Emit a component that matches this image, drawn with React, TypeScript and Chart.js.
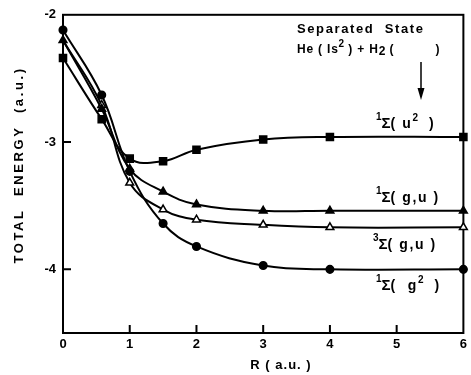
import { useEffect, useRef } from 'react';
import { Chart, registerables } from 'chart.js';

Chart.register(...registerables);

// R (a.u.) sample positions
const R = [0, 0.58, 1, 1.5, 2, 3, 4, 6];
// Total energies (a.u.)
const E_u2 = [-2.34, -2.82, -3.13, -3.15, -3.06, -2.98, -2.96, -2.96];
const E_gu1 = [-2.2, -2.74, -3.21, -3.39, -3.49, -3.54, -3.54, -3.54];
const E_gu3 = [-2.2, -2.71, -3.32, -3.53, -3.61, -3.65, -3.67, -3.67];
const E_g2 = [-2.12, -2.63, -3.23, -3.64, -3.82, -3.97, -4.0, -4.0];

const xTicks = [0, 1, 2, 3, 4, 5, 6];
const yTicks = [-2, -3, -4];
const xInnerTicks = [1, 2, 3, 4, 5];
const yInnerTicks = [-3, -4];

const FONT = '"Liberation Sans", Arial, sans-serif';

type Run = { t: string; size: number; dy?: number; ls?: number };

function drawRuns(ctx: CanvasRenderingContext2D, x: number, y: number, runs: Run[]) {
  let cx = x;
  for (const r of runs) {
    ctx.font = `bold ${r.size}px ${FONT}`;
    (ctx as any).letterSpacing = `${r.ls ?? 0}px`;
    ctx.fillText(r.t, cx, y + (r.dy ?? 0));
    cx += ctx.measureText(r.t).width;
  }
  (ctx as any).letterSpacing = '0px';
}

const decorPlugin = {
  id: 'decor',
  beforeDatasetsDraw(chart: any) {
    const { ctx, chartArea: a, scales } = chart;
    ctx.save();
    ctx.strokeStyle = '#000';
    ctx.lineWidth = 2;
    ctx.strokeRect(a.left, a.top, a.right - a.left, a.bottom - a.top);
    ctx.beginPath();
    for (const v of xInnerTicks) {
      const px = scales.x.getPixelForValue(v);
      ctx.moveTo(px, a.bottom);
      ctx.lineTo(px, a.bottom - 8);
    }
    for (const v of yInnerTicks) {
      const py = scales.y.getPixelForValue(v);
      ctx.moveTo(a.left, py);
      ctx.lineTo(a.left + 8, py);
    }
    ctx.stroke();
    ctx.restore();
  },
  afterDraw(chart: any) {
    const { ctx } = chart;
    ctx.save();
    ctx.fillStyle = '#000';
    ctx.strokeStyle = '#000';
    ctx.textBaseline = 'alphabetic';
    ctx.textAlign = 'left';

    // Y axis title
    ctx.save();
    ctx.translate(23, 165);
    ctx.rotate(-Math.PI / 2);
    ctx.textAlign = 'center';
    ctx.font = `bold 13px ${FONT}`;
    (ctx as any).letterSpacing = '2.6px';
    ctx.fillText('TOTAL  ENERGY  (a.u.)', 0, 0);
    (ctx as any).letterSpacing = '0px';
    ctx.restore();

    // X axis title
    ctx.textAlign = 'center';
    ctx.font = `bold 13px ${FONT}`;
    (ctx as any).letterSpacing = '1px';
    ctx.fillText('R ( a.u. )', 281, 369);
    (ctx as any).letterSpacing = '0px';
    ctx.textAlign = 'left';

    // Separated state note
    drawRuns(ctx, 297, 33, [{ t: 'Separated  State', size: 13, ls: 1.6 }]);
    drawRuns(ctx, 297, 53, [
      { t: 'He ( Is', size: 12, ls: 0.8 },
      { t: '2', size: 10, dy: -6 },
      { t: ' ) + H', size: 12, ls: 0.8 },
      { t: '2', size: 12, dy: 2 },
      { t: ' (          )', size: 12, ls: 0.8 },
    ]);

    // Arrow
    ctx.lineWidth = 1.5;
    ctx.beginPath();
    ctx.moveTo(421, 62);
    ctx.lineTo(421, 92);
    ctx.stroke();
    ctx.beginPath();
    ctx.moveTo(417.5, 88);
    ctx.lineTo(424.5, 88);
    ctx.lineTo(421, 100);
    ctx.closePath();
    ctx.fill();

    // State labels
    const label = (x: number, y: number, sup: string, body: string, sup2: string | null, tail: string) => {
      const runs: Run[] = [
        { t: sup, size: 10, dy: -8 },
        { t: 'Σ', size: 15 },
        { t: body, size: 14, ls: 1.6 },
      ];
      if (sup2) runs.push({ t: sup2, size: 10, dy: -7 });
      runs.push({ t: tail, size: 14, ls: 1.6 });
      drawRuns(ctx, x, y, runs);
    };
    label(376, 128, '1', '( u', '2', '  )');
    label(376, 202, '1', '( g,u', null, ' )');
    label(373, 249, '3', '( g,u', null, ' )');
    label(376, 290, '1', '(  g', '2', '  )');

    ctx.restore();
  },
};

export default function App() {
  const ref = useRef<HTMLCanvasElement | null>(null);

  useEffect(() => {
    document.body.style.margin = '0';
    if (!ref.current) return;
    const pts = (ys: number[]) => R.map((x, i) => ({ x, y: ys[i] }));
    const base = {
      borderColor: '#000',
      borderWidth: 2,
      pointBorderColor: '#000',
      pointBackgroundColor: '#000',
      pointBorderWidth: 1.5,
      tension: 0.4,
      clip: false as any,
      fill: false,
    };
    const chart = new Chart(ref.current, {
      type: 'line',
      data: {
        datasets: [
          { ...base, label: '1Σ(u2)', data: pts(E_u2), pointStyle: 'rect', pointRadius: 5 },
          { ...base, label: '1Σ(g,u)', data: pts(E_gu1), pointStyle: 'triangle', pointRadius: 4.5 },
          {
            ...base,
            label: '3Σ(g,u)',
            data: pts(E_gu3),
            pointStyle: 'triangle',
            pointRadius: R.map((_, i) => (i === 0 ? 0 : 4.5)),
            pointBackgroundColor: '#fff',
          },
          { ...base, label: '1Σ(g2)', data: pts(E_g2), pointStyle: 'circle', pointRadius: 3.8 },
        ],
      },
      options: {
        animation: false,
        responsive: true,
        maintainAspectRatio: false,
        layout: { padding: { top: 14, right: 4, left: 0, bottom: 0 } },
        plugins: { legend: { display: false }, tooltip: { enabled: false } },
        scales: {
          x: {
            type: 'linear',
            min: 0,
            max: 6,
            afterBuildTicks: (s: any) => {
              s.ticks = xTicks.map((v) => ({ value: v }));
            },
            afterFit: (s: any) => {
              s.height = 42;
            },
            grid: { display: false, drawTicks: false },
            border: { display: true, color: '#000', width: 2 },
            ticks: {
              color: '#000',
              padding: 4,
              autoSkip: false,
              maxRotation: 0,
              font: { family: FONT, size: 13, weight: 'bold' },
              callback: (v: any) => String(v),
            },
          },
          y: {
            type: 'linear',
            min: -4.5,
            max: -2,
            afterBuildTicks: (s: any) => {
              s.ticks = yTicks.map((v) => ({ value: v }));
            },
            afterFit: (s: any) => {
              s.width = 63;
            },
            grid: { display: false, drawTicks: false },
            border: { display: true, color: '#000', width: 2 },
            ticks: {
              color: '#000',
              padding: 7,
              font: { family: FONT, size: 13, weight: 'bold' },
              callback: (v: any) => String(v),
            },
          },
        },
      },
      plugins: [decorPlugin],
    });
    return () => chart.destroy();
  }, []);

  return (
    <div style={{ width: 471, height: 375, position: 'relative' }}>
      <canvas ref={ref} />
    </div>
  );
}
